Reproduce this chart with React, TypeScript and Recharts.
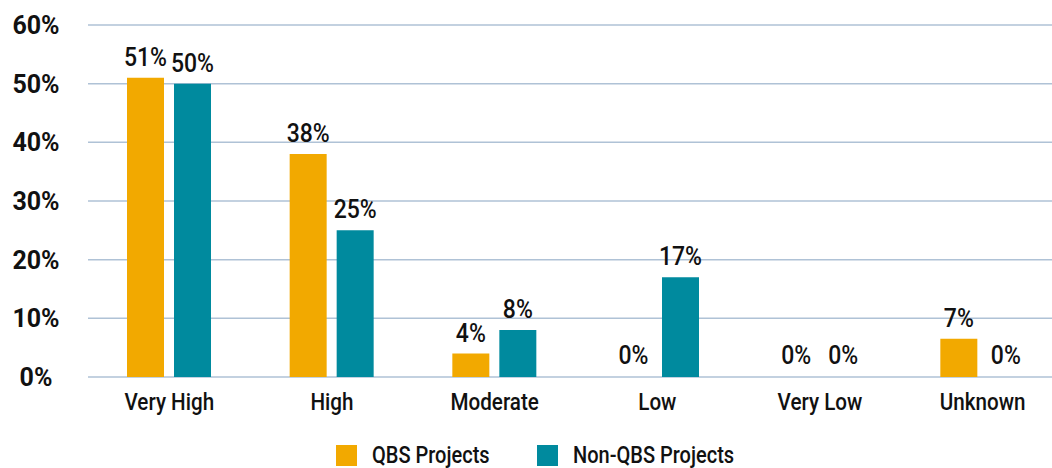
import React from 'react';
import { BarChart, Bar, XAxis, YAxis, CartesianGrid, LabelList, Rectangle } from 'recharts';

const categories = ['Very High', 'High', 'Moderate', 'Low', 'Very Low', 'Unknown'];
const qbsValues = [51, 38, 4, 0, 0, 6.5];
const nonQbsValues = [50, 25, 8, 17, 0, 0];
const yTicks = [0, 10, 20, 30, 40, 50, 60];

const QBS_COLOR = '#F2A900';
const NON_QBS_COLOR = '#008A9E';
const GRID_COLOR = '#AFC2D6';
const TEXT_COLOR = '#111111';
const FONT = 'Roboto, sans-serif';

const data = categories.map((name, i) => ({
  name,
  qbs: qbsValues[i],
  nonQbs: nonQbsValues[i],
}));

const legendItems = [
  { label: 'QBS Projects', color: QBS_COLOR, left: 336 },
  { label: 'Non-QBS Projects', color: NON_QBS_COLOR, left: 537 },
];

// y ticks are centred in the left gutter, bold
const YTick = (props: any) => {
  const { y, payload } = props;
  return (
    <text x={36} y={y} dy={9} textAnchor="middle" fontSize={25} fontWeight={700} fill={TEXT_COLOR} fontFamily={FONT}>
      {`${payload.value}%`}
    </text>
  );
};

// condensed look: squeeze the glyphs horizontally
const XTick = (props: any) => {
  const { x, y, payload } = props;
  return (
    <g transform={`translate(${x},${y + 33}) scale(0.86,1)`}>
      <text x={0} y={0} textAnchor="middle" fontSize={24} fontWeight={500} fill={TEXT_COLOR} fontFamily={FONT}>
        {payload.value}
      </text>
    </g>
  );
};

const BarLabel = (props: any) => {
  const { x, y, width, value } = props;
  return (
    <g transform={`translate(${x + width / 2},${y - 12}) scale(0.92,1)`}>
      <text x={0} y={0} textAnchor="middle" fontSize={25} fontWeight={500} fill={TEXT_COLOR} fontFamily={FONT}>
        {`${Math.round(Number(value))}%`}
      </text>
    </g>
  );
};

// keep zero bars in the layout (so their labels show) but draw nothing
const BarShape = (props: any) => {
  if (!props.value) return <g />;
  return <Rectangle {...props} />;
};

const App: React.FC = () => {
  return (
    <div style={{ position: 'absolute', left: 0, top: 0, width: 1052, height: 468, background: '#fff', overflow: 'hidden' }}>
      <BarChart width={1052} height={468} data={data} margin={{ top: 25, right: -12, bottom: 0, left: 0 }} barSize={37} barGap={10}>
        <CartesianGrid horizontal vertical={false} stroke={GRID_COLOR} strokeWidth={1.5} />
        <XAxis dataKey="name" axisLine={false} tickLine={false} tickSize={0} tickMargin={0} height={91} tick={<XTick />} interval={0} />
        <YAxis width={88} domain={[0, 60]} ticks={yTicks} axisLine={false} tickLine={false} tick={<YTick />} />
        <Bar dataKey="qbs" name="QBS Projects" fill={QBS_COLOR} minPointSize={1} shape={<BarShape />} isAnimationActive={false}>
          <LabelList dataKey="qbs" content={<BarLabel />} />
        </Bar>
        <Bar dataKey="nonQbs" name="Non-QBS Projects" fill={NON_QBS_COLOR} minPointSize={1} shape={<BarShape />} isAnimationActive={false}>
          <LabelList dataKey="nonQbs" content={<BarLabel />} />
        </Bar>
      </BarChart>
      {legendItems.map(item => (
        <div key={item.label} style={{ position: 'absolute', left: item.left, top: 445, height: 21, display: 'flex', alignItems: 'center', fontFamily: FONT }}>
          <span style={{ width: 21, height: 21, background: item.color, display: 'inline-block', flexShrink: 0 }} />
          <span style={{ display: 'inline-block', marginLeft: 15, fontSize: 23, lineHeight: '21px', fontWeight: 500, color: TEXT_COLOR, transform: 'scaleX(0.87)', transformOrigin: 'left center', whiteSpace: 'nowrap' }}>
            {item.label}
          </span>
        </div>
      ))}
    </div>
  );
};

export default App;
